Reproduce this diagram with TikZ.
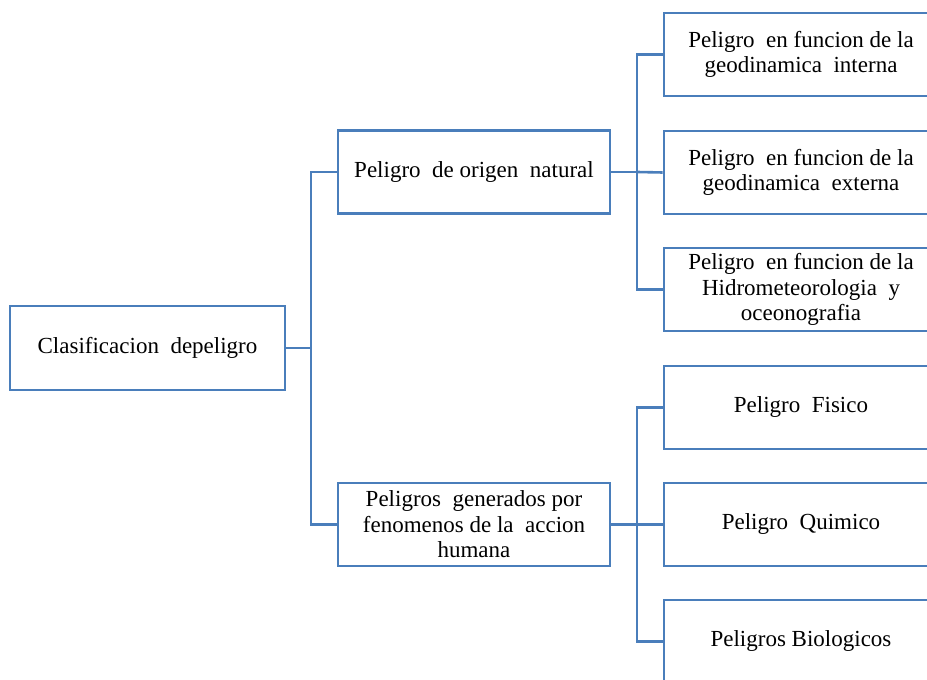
\documentclass[tikz,border=0pt]{standalone}
\usepackage{fontspec}
\setmainfont{LiberationSerif}[Extension=.ttf,UprightFont=*-Regular,BoldFont=*-Bold]
\definecolor{boxblue}{RGB}{74,126,187}
\begin{document}
\begin{tikzpicture}[x=1pt,y=1pt,
  box/.style={draw=boxblue,line width=2.6pt,fill=white,rectangle,inner sep=0pt,
    align=center,font=\rmfamily\fontsize{23}{25.5}\selectfont,text=black},
  rootbox/.style={box,minimum width=275pt,minimum height=84pt},
  midbox/.style={box,minimum width=272pt,minimum height=83pt},
  leafbox/.style={box,minimum width=274pt,minimum height=83pt},
  link/.style={draw=boxblue,line width=2.6pt}]
\useasboundingbox (0,0) rectangle (927,680);
\clip (0,0) rectangle (927,680);
% nodes (y measured from bottom: 680 - y_image)
\node[rootbox] (root) at (147.5,332) {Clasificacion\ \ depeligro};
\node[midbox] (m1) at (474,508) {Peligro\ \ de origen\ \ natural};
\node[midbox] (m2) at (474,155.5) {Peligros\ \ generados por\\fenomenos de la\ \ accion\\humana};
\node[leafbox] (r1) at (801,625.5) {Peligro\ \ en funcion de la\\geodinamica\ \ interna};
\node[leafbox] (r2) at (801,507.5) {Peligro\ \ en funcion de la\\geodinamica\ \ externa};
\node[leafbox] (r3) at (801,390.5) {Peligro\ \ en funcion de la\\Hidrometeorologia\ \ y\\oceonografia};
\node[leafbox] (r4) at (801,272.5) {Peligro\ \ Fisico};
\node[leafbox] (r5) at (801,155.5) {Peligro\ \ Quimico};
\node[leafbox] (r6) at (801,38.5) {Peligros Biologicos};
% connectors
\coordinate (t1) at (311,332);
\coordinate (t2) at (637,508);
\coordinate (t3) at (637,155.5);
\draw[link] (root.east) -- (t1);
\draw[link] (t1) |- (m1.west);
\draw[link] (t1) |- (m2.west);
\draw[link] (m1.east) -- (t2);
\draw[link] (t2) |- (r1.west);
\draw[link] (t2) -- (r2.west);
\draw[link] (t2) |- (r3.west);
\draw[link] (m2.east) -- (t3);
\draw[link] (t3) |- (r4.west);
\draw[link] (t3) -- (r5.west);
\draw[link] (t3) |- (r6.west);
\end{tikzpicture}
\end{document}
